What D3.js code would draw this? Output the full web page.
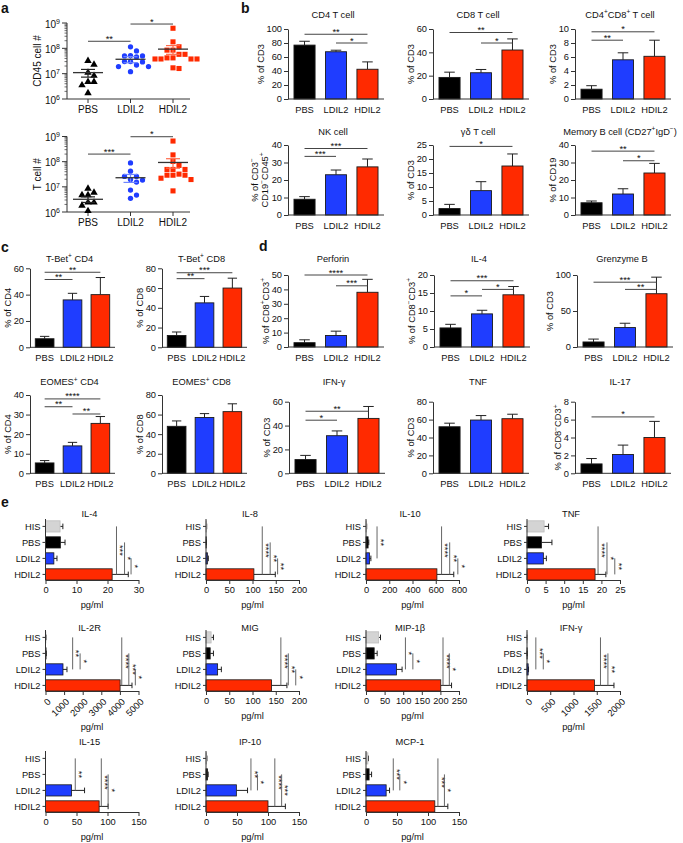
<!DOCTYPE html>
<html><head><meta charset="utf-8">
<script src="https://cdn.jsdelivr.net/npm/d3@7"></script>
<style>
body{margin:0;background:#fff}
svg{display:block}
text{font-family:"Liberation Sans",Arial,Helvetica,sans-serif;fill:#111}
</style>
</head><body>
<svg id="c" width="683" height="843"></svg>
<script>
// ---------------- DATA ----------------
const groups3 = ["PBS","LDIL2","HDIL2"];
const groups4 = ["HIS","PBS","LDIL2","HDIL2"];

// panel a
const scatterLabels = ["CD45 cell #","T cell #"];
const cd45Values = [
  [3.2e7,2.3e7,1.1e7,8.3e6,4.8e6,4.8e6,3.5e6,1.7e6],
  [1.15e8,7.9e7,5.2e7,5.0e7,5.0e7,4.6e7,3.0e7,3.0e7,2.9e7,2.2e7,1.9e7,1.9e7,1.2e7],
  [6.2e8,1.8e8,1.15e8,8.5e7,8.5e7,5.8e7,5.8e7,4.2e7,4.2e7,3.8e7,3.8e7,3.8e7,3.8e7,1.7e7,1.6e7]
];
const tcellValues = [
  [8.5e6,5.9e6,4.7e6,4.7e6,2.4e6,2.4e6,1.8e6,1.1e6],
  [8.9e7,4.2e7,2.6e7,2.6e7,1.95e7,1.86e7,1.55e7,7.4e6,4.7e6,3.5e6],
  [6.6e8,1.86e8,1.02e8,7.1e7,4.9e7,4.9e7,4.9e7,3.2e7,2.9e7,2.9e7,2.9e7,2.2e7,1.95e7,6.9e6]
];
const scatterMeans = [[1.1e7,3.7e7,9.3e7],[3.2e6,2.3e7,9.3e7]];
const scatterSems  = [[3.7e6,1.0e7,3.5e7],[8e5,8e6,3.8e7]];
const scatterSigs  = [[[0,1,1.9e8,"**"],[1,2,9.1e8,"*"]],[[0,1,2.0e8,"***"],[1,2,9.8e8,"*"]]];
const logTicks = [1e6,1e7,1e8,1e9];

// panels b, c, d (vertical bars)
const barTitles = ["CD4 T cell","CD8 T cell","CD4^+CD8^+ T cell","NK cell","γδ T cell","Memory B cell (CD27^+IgD^−)",
  "T-Bet^+ CD4","T-Bet^+ CD8","EOMES^+ CD4","EOMES^+ CD8",
  "Perforin","IL-4","Grenzyme B","IFN-γ","TNF","IL-17"];
const barYLabels = ["% of CD3","% of CD3","% of CD3",["% of CD3^−","CD19^−CD45^+"],"% of CD3","% of CD19",
  "% of CD4","% of CD8","% of CD4","% of CD8",
  "% of CD8^+CD3^+","% of CD8^−CD3^+","% of CD3","% of CD3","% of CD3","% of CD8^−CD3^+"];
const barYMax  = [100,60,10,40,25,40, 60,80,40,80, 50,20,100,60,80,8];
const barYStep = [20,20,2,10,5,10, 20,20,10,20, 10,5,50,20,20,2];
const barMeans = [
  [77,67.5,42.5],[18.5,22.5,42],[1.4,5.6,6.1],[9,23,27.5],[2.3,8.7,17.5],[7,12,24],
  [6.5,36,40],[12,45,60],[5.3,14,25.5],[48,57,63],
  [3,8,38],[5.3,9.2,14.5],[7,27,74],[11.5,31.5,46],[52,59.5,61],[1.05,2.1,4]
];
const barErrs = [
  [5.5,2.2,10.5],[4.5,2.8,9.5],[0.5,1.0,2.3],[1.5,2.7,4.5],[1.5,3.2,4.3],[1,3,5.5],
  [1.8,5,13],[3.5,6.5,10],[1.2,1.8,3.5],[5.5,4,8],
  [2,3,9],[1,1,2.3],[4,6,23],[3.5,4,10],[4,5,5],[0.6,1.05,1.8]
];
const barSigs = [
  [[0,2,92.5,"**"],[1,2,80,"*"]],
  [[0,2,57,"**"],[1,2,48,"*"]],
  [[0,1,8.4,"**"],[0,2,9.6,"*"]],
  [[0,2,38,"***"],[0,1,33.5,"***"]],
  [[0,2,24.5,"*"]],
  [[0,2,36.5,"**"],[1,2,31,"*"]],
  [[0,2,57,"**"],[0,1,51.5,"**"]],
  [[0,2,75.5,"***"],[0,1,69.5,"**"]],
  [[0,2,38,"****"],[0,1,34,"**"],[1,2,30.3,"**"]],
  [],
  [[0,2,50,"****"],[1,2,42.5,"***"]],
  [[0,2,18.4,"***"],[1,2,16,"*"],[0,1,14.2,"*"]],
  [[0,2,90,"***"],[1,2,80,"**"]],
  [[0,2,52,"**"],[0,1,44.5,"*"]],
  [],
  [[0,2,6.3,"*"]]
];

// panel e (horizontal bars, pg/ml)
const hTitles = ["IL-4","IL-8","IL-10","TNF","IL-2R","MIG","MIP-1β","IFN-γ","IL-15","IP-10","MCP-1"];
const hMax  = [30,200,800,25,5000,200,250,2000,150,150,150];
const hStep = [10,50,200,5,1000,50,50,500,50,50,50];
const hMeans = [
  [4.7,4.8,2.7,21.5],[1,0.5,3,103],[4,18,30,610],[4.6,3.9,4.4,18.3],
  [20,30,940,4010],[11,9,25,141],[34,22,82,201],[2,3,25,1450],
  [0,0,42,86.5],[1,2.5,49,100],[3,5,32.5,111]
];
const hErrs = [
  [0.9,1.5,1.0,5.2],[0.5,0.3,2,46],[2,6,12,145],[1.2,2.8,0.8,2.9],
  [10,10,215,640],[5,7,8,33],[5,8,15,29],[1,1,8,420],
  [0,0,21,14.5],[0.5,1,18,28],[1,4,5.5,21]
];
const hSigs = [
  [[0,3,22.9,"***"],[1,3,25.5,"*"],[2,3,27.6,"*"]],
  [[0,3,121,"****"],[1,3,138,"**"],[2,3,154,"**"]],
  [[0,2,95,"**"],[0,3,650,"****"],[1,3,720,"**"],[2,3,790,"*"]],
  [[0,3,19.1,"****"],[1,3,21.5,"*"],[2,3,23.6,"**"]],
  [[0,2,1460,"**"],[1,2,1860,"*"],[0,3,4100,"****"],[1,3,4480,"***"],[2,3,4830,"*"]],
  [[0,3,161,"****"],[1,3,177,"**"],[2,3,193,"*"]],
  [[0,2,106,"*"],[1,2,126,"*"],[0,3,207,"****"],[1,3,224,"*"]],
  [[0,2,190,"***"],[1,2,350,"*"],[0,3,1580,"****"],[1,3,1740,"**"]],
  [[0,2,48,"**"],[0,3,90,"****"],[1,3,101,"*"]],
  [[0,2,72.5,"**"],[1,2,83,"*"],[0,3,111,"****"],[1,3,122,"***"]],
  [[0,2,44,"***"],[1,2,54.5,"*"],[0,3,116,"***"],[1,3,126.5,"*"]]
];

// ---------------- STYLE / LAYOUT ----------------
const colors3 = ["#000000","#1f3dff","#ff2a00"];
const colors4 = ["#d4d4d4","#000000","#1f3dff","#ff2a00"];
const FONT = "Liberation Sans, Arial, Helvetica, sans-serif";
const FS = 9.3;
const AX = "#333";

const vLayout = [
 {x:288,top:29,zero:99,w:96,t:14},
 {x:433,top:29,zero:99,w:96,t:14},
 {x:575,top:29,zero:99,w:96,t:14},
 {x:288,top:145,zero:215,w:96,t:131},
 {x:433,top:145,zero:215,w:96,t:131},
 {x:575,top:145,zero:215,w:96,t:131},
 {x:30,top:268.3,zero:347.3,w:85,t:258.5},
 {x:162,top:268.3,zero:347.3,w:85,t:258.5},
 {x:30,top:395,zero:473.3,w:85,t:381.7},
 {x:162,top:395,zero:473.3,w:85,t:381.7},
 {x:288,top:275,zero:347,w:96,t:258.3},
 {x:434,top:275,zero:347,w:96,t:258.3},
 {x:577,top:275,zero:347,w:96,t:258.3},
 {x:289,top:401.7,zero:473.3,w:96,t:381.7},
 {x:433,top:401.7,zero:473.3,w:96,t:381.7},
 {x:575,top:401.7,zero:473.3,w:96,t:381.7}
];
const hLayout = [
 {x:45.5,y:580,t:513},{x:206,y:580,t:513},{x:366,y:580,t:513},{x:527,y:580,t:513},
 {x:45.5,y:691,t:627,rot:true},{x:206,y:691,t:627},{x:366,y:691,t:627},{x:527,y:691,t:627,rot:true},
 {x:45.5,y:812,t:741},{x:206,y:812,t:741},{x:366,y:812,t:741}
];
const HW = 93;

const svg = d3.select("#c");

function rich(t, str, fs){
  const re=/\^\{([^}]*)\}|\^(.)/g; let last=0, m, shifted=false;
  const add=(s,sup)=>{
    const ts=t.append("tspan").text(s);
    if(sup){ ts.attr("font-size",fs*0.7); if(!shifted){ts.attr("dy",-fs*0.38); shifted=true;} }
    else if(shifted){ ts.attr("dy",fs*0.38); shifted=false; }
  };
  while((m=re.exec(str))!==null){
    if(m.index>last) add(str.slice(last,m.index),false);
    add(m[1]!==undefined?m[1]:m[2],true);
    last=re.lastIndex;
  }
  if(last<str.length) add(str.slice(last),false);
  return t;
}
function txt(g,x,y,str,opt={}){
  const fs=opt.fs||FS;
  const t=g.append("text").attr("x",x).attr("y",y).attr("font-size",fs)
    .attr("text-anchor",opt.anchor||"middle").attr("font-family",FONT);
  if(opt.bold) t.attr("font-weight","bold");
  if(opt.rot) t.attr("transform",`rotate(${opt.rot},${x},${y})`);
  rich(t,str,fs);
  return t;
}
function styleAxis(a){
  a.attr("font-size",null).attr("font-family",null);
  a.select(".domain").attr("stroke",AX);
  a.selectAll(".tick line").attr("stroke",AX);
  a.selectAll(".tick text").attr("font-size",FS).attr("font-family",FONT).attr("fill","#111");
}

// panel letters
txt(svg,1,13,"a",{fs:14,bold:true,anchor:"start"});
txt(svg,241,13,"b",{fs:14,bold:true,anchor:"start"});
txt(svg,1,252,"c",{fs:14,bold:true,anchor:"start"});
txt(svg,259,251,"d",{fs:14,bold:true,anchor:"start"});
txt(svg,1,507,"e",{fs:14,bold:true,anchor:"start"});

// ---------------- PANEL a ----------------
function scatter(k){
  const top=[23,136.5][k], bottom=[99,212][k];
  const vals=[cd45Values,tcellValues][k];
  const g=svg.append("g");
  const y=d3.scaleLog().domain([1e6,1e9]).range([bottom,top]);
  const x=d3.scalePoint().domain(groups3).range([88,173]);
  const ax=67;
  g.append("line").attr("x1",ax).attr("x2",ax).attr("y1",top).attr("y2",bottom).attr("stroke",AX);
  for(let e=6;e<9;e++){
    for(let m=2;m<10;m++){
      const yy=y(m*Math.pow(10,e));
      g.append("line").attr("x1",ax-2.5).attr("x2",ax).attr("y1",yy).attr("y2",yy).attr("stroke",AX).attr("stroke-width",0.7);
    }
  }
  logTicks.forEach(v=>{
    const yy=y(v);
    g.append("line").attr("x1",ax-5).attr("x2",ax).attr("y1",yy).attr("y2",yy).attr("stroke",AX);
    txt(g,ax-7,yy+4.5,"10^{"+Math.round(Math.log10(v))+"}",{anchor:"end",fs:10});
  });
  g.append("line").attr("x1",ax).attr("x2",190).attr("y1",bottom).attr("y2",bottom).attr("stroke",AX);
  groups3.forEach(c=>{
    g.append("line").attr("x1",x(c)).attr("x2",x(c)).attr("y1",bottom).attr("y2",bottom+4).attr("stroke",AX);
    txt(g,x(c),bottom+14,c,{fs:10});
  });
  txt(g,40.5,(top+bottom)/2,scatterLabels[k],{rot:-90,fs:10});
  const sym=[d3.symbolTriangle,d3.symbolCircle,d3.symbolSquare];
  const size=[24,22,26];
  vals.forEach((arr,gi)=>{
    const placed=[];
    const sorted=arr.map(v=>y(v)).sort((a,b)=>a-b);
    sorted.forEach(py=>{
      const cands=[0,6,-6,12,-12,18,-18,24,-24];
      let dx=0;
      for(const c of cands){
        if(placed.every(p=>Math.hypot(p[0]-c,p[1]-py)>=5.6)){dx=c;break;}
      }
      placed.push([dx,py]);
    });
    placed.forEach(p=>{
      g.append("path").attr("d",d3.symbol(sym[gi],size[gi])())
        .attr("transform",`translate(${x(groups3[gi])+p[0]},${p[1]})`)
        .attr("fill",colors3[gi]);
    });
    const cx=x(groups3[gi]), mn=scatterMeans[k][gi], se=scatterSems[k][gi];
    const hi=y(mn+se), lo=y(mn-se);
    const sc = gi===0? "#222" : (gi===1? "#6f86ff":"#ff6a4a");
    g.append("line").attr("x1",cx).attr("x2",cx).attr("y1",hi).attr("y2",lo).attr("stroke",sc).attr("stroke-width",1.2);
    [hi,lo].forEach(yy=>g.append("line").attr("x1",cx-7).attr("x2",cx+7).attr("y1",yy).attr("y2",yy).attr("stroke",sc).attr("stroke-width",1.2));
    g.append("line").attr("x1",cx-15).attr("x2",cx+15).attr("y1",y(mn)).attr("y2",y(mn)).attr("stroke","#333").attr("stroke-width",1.3);
  });
  scatterSigs[k].forEach(s=>{
    const yy=y(s[2]);
    g.append("line").attr("x1",x(groups3[s[0]])).attr("x2",x(groups3[s[1]])).attr("y1",yy).attr("y2",yy).attr("stroke","#444");
    txt(g,(x(groups3[s[0]])+x(groups3[s[1]]))/2,yy+0.5,s[3]);
  });
}
scatter(0); scatter(1);

// ---------------- PANELS b, c, d ----------------
function vbar(i){
  const L=vLayout[i], g=svg.append("g");
  const x=d3.scaleBand().domain(groups3).range([L.x,L.x+L.w]).paddingInner(0.33).paddingOuter(0.19);
  const y=d3.scaleLinear().domain([0,barYMax[i]]).range([L.zero,L.top]);
  const cx=k=>x(groups3[k])+x.bandwidth()/2;
  const data=barMeans[i].map((v,k)=>({k,v,e:barErrs[i][k]}));
  const cw=x.bandwidth()*0.25;
  g.selectAll("path.eb").data(data).join("path").attr("class","eb")
    .attr("d",d=>`M${cx(d.k)},${y(d.v)}V${y(d.v+d.e)}M${cx(d.k)-cw},${y(d.v+d.e)}H${cx(d.k)+cw}`)
    .attr("stroke","#222").attr("fill","none");
  g.selectAll("rect").data(data).join("rect")
    .attr("x",d=>x(groups3[d.k])).attr("y",d=>y(d.v))
    .attr("width",x.bandwidth()).attr("height",d=>y(0)-y(d.v))
    .attr("fill",d=>colors3[d.k]).attr("stroke","#1a1a1a").attr("stroke-width",0.9);
  const ticks=d3.range(0,barYMax[i]+1e-9,barYStep[i]);
  const ay=g.append("g").attr("transform",`translate(${L.x},0)`)
    .call(d3.axisLeft(y).tickValues(ticks).tickSize(4).tickSizeOuter(0).tickPadding(2));
  styleAxis(ay);
  g.append("line").attr("x1",L.x).attr("x2",L.x+L.w).attr("y1",L.zero).attr("y2",L.zero).attr("stroke",AX);
  groups3.forEach((c,k)=>txt(g,cx(k),L.zero+14,c));
  txt(g,L.x+L.w/2-3,L.t+3.5,barTitles[i]);
  const digits=String(barYMax[i]).length;
  const lx=L.x-12-digits*FS*0.556;
  const cy=(L.top+L.zero)/2;
  const lab=barYLabels[i];
  if(Array.isArray(lab)){
    txt(g,lx-11+3.3,cy,lab[0],{rot:-90});
    txt(g,lx-1+3.3,cy,lab[1],{rot:-90});
  } else {
    txt(g,lx+3.3,cy,lab,{rot:-90});
  }
  barSigs[i].forEach(s=>{
    const yy=y(s[2]);
    g.append("line").attr("x1",cx(s[0])).attr("x2",cx(s[1])).attr("y1",yy).attr("y2",yy).attr("stroke","#444");
    txt(g,(cx(s[0])+cx(s[1]))/2,yy+0.5,s[3]);
  });
}
barTitles.forEach((_,i)=>vbar(i));

// ---------------- PANEL e ----------------
function hbar(i){
  const L=hLayout[i], g=svg.append("g");
  const x=d3.scaleLinear().domain([0,hMax[i]]).range([L.x,L.x+HW]);
  const y=d3.scaleBand().domain(groups4).range([L.y-59.2,L.y]).paddingInner(0.3).paddingOuter(0);
  const cy=k=>y(groups4[k])+y.bandwidth()/2;
  const data=hMeans[i].map((v,k)=>({k,v,e:hErrs[i][k]}));
  const ch=y.bandwidth()*0.25;
  g.selectAll("path.eb").data(data.filter(d=>d.v>0)).join("path").attr("class","eb")
    .attr("d",d=>`M${x(d.v)},${cy(d.k)}H${x(d.v+d.e)}M${x(d.v+d.e)},${cy(d.k)-ch}V${cy(d.k)+ch}`)
    .attr("stroke","#222").attr("fill","none");
  g.selectAll("rect").data(data.filter(d=>d.v>0)).join("rect")
    .attr("x",L.x).attr("y",d=>y(groups4[d.k]))
    .attr("width",d=>x(d.v)-L.x).attr("height",y.bandwidth())
    .attr("fill",d=>colors4[d.k]).attr("stroke",d=>d.k===0?"#bdbdbd":"#1a1a1a").attr("stroke-width",0.8);
  g.append("line").attr("x1",L.x).attr("x2",L.x).attr("y1",L.y-61).attr("y2",L.y).attr("stroke",AX);
  groups4.forEach((c,k)=>{
    g.append("line").attr("x1",L.x-3).attr("x2",L.x).attr("y1",cy(k)).attr("y2",cy(k)).attr("stroke",AX);
    txt(g,L.x-5,cy(k)+3.3,c,{anchor:"end"});
  });
  const ticks=d3.range(0,hMax[i]+1e-9,hStep[i]);
  const axg=g.append("g").attr("transform",`translate(0,${L.y})`)
    .call(d3.axisBottom(x).tickValues(ticks).tickSize(4).tickSizeOuter(0).tickPadding(2).tickFormat(d3.format("d")));
  styleAxis(axg);
  if(L.rot){
    axg.selectAll(".tick text").attr("x",0).attr("y",0).attr("dy","0.35em")
      .attr("text-anchor","end").attr("transform","translate(3,9) rotate(-45)");
    txt(g,L.x+HW/2,L.y+39,"pg/ml");
  } else {
    txt(g,L.x+HW/2,L.y+28,"pg/ml");
  }
  txt(g,L.x+44,L.t+3.5,hTitles[i]);
  hSigs[i].forEach(s=>{
    const xx=x(s[2]);
    g.append("line").attr("x1",xx).attr("x2",xx).attr("y1",cy(s[0])).attr("y2",cy(s[1])).attr("stroke","#666");
    txt(g,xx+0.8,(cy(s[0])+cy(s[1]))/2,s[3],{rot:90});
  });
}
hTitles.forEach((_,i)=>hbar(i));
</script>
</body></html>
